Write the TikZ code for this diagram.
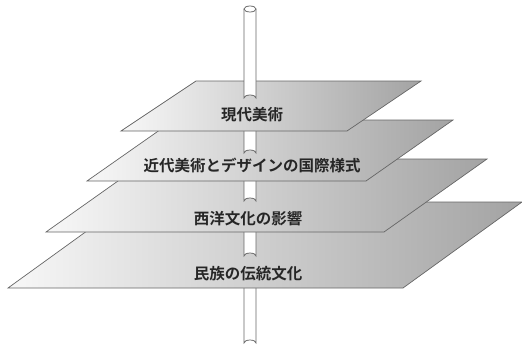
\documentclass[tikz,border=0pt]{standalone}
\usepackage{fontspec}
\newfontfamily\jp{Noto Sans CJK JP}[BoldFont={Noto Sans CJK JP Bold}]
\tikzset{
  plane/.style={left color=black!3, middle color=black!8, right color=black!36, draw=black!60, line width=0.7pt, line join=miter},
  polepart/.style={fill=white, draw=black!60, line width=0.75pt},
  label/.style={font=\jp\bfseries\fontsize{15.5}{15.5}\selectfont, text=black!85, inner sep=1pt}
}
\newcommand{\poleseg}[2]{%
  \draw[polepart] (244,#1) -- (244,#2) arc[start angle=180, end angle=360, x radius=6, y radius=3] -- (256,#1);}
\begin{document}
\begin{tikzpicture}[x=1pt,y=-1pt]
\useasboundingbox (0,0) rectangle (522,353);
% bottom pole part
\poleseg{250}{343}
% plane 4
\shade[plane] (127,202) -- (522,202) -- (403,288) -- (8,288) -- cycle;
\node[label] (l4) at (248,274) {民族の伝統文化};
\poleseg{190}{256}
% plane 3
\shade[plane] (149,159) -- (487,159) -- (384,232) -- (46,232) -- cycle;
\node[label] (l3) at (248,219) {西洋文化の影響};
\poleseg{150}{201}
% plane 2
\shade[plane] (174,120) -- (453,120) -- (366,181) -- (87,181) -- cycle;
\node[label] (l2) at (252,165) {近代美術とデザインの国際様式};
\poleseg{100}{153}
% plane 1
\shade[plane] (196,81) -- (421,81) -- (347,131) -- (121,131) -- cycle;
\node[label] (l1) at (252,115) {現代美術};
\poleseg{9}{98}
\draw[polepart] (250,9) ellipse[x radius=6, y radius=3];
\end{tikzpicture}
\end{document}
